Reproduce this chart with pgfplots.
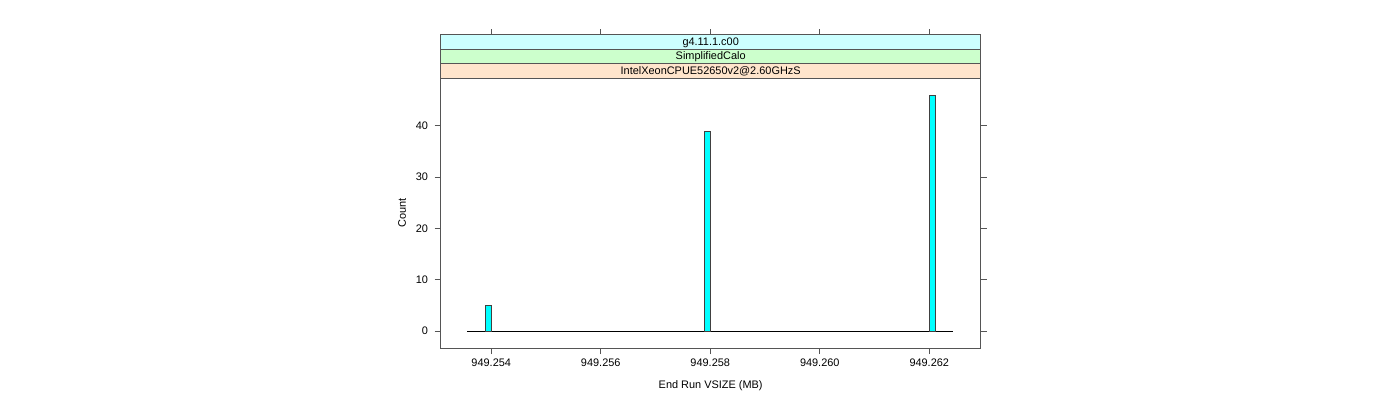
\documentclass[border=0pt]{standalone}
\usepackage{pgfplots}
\pgfplotsset{compat=1.18}
\usetikzlibrary{calc}
\usepackage{fontspec}
\setmainfont{Liberation Sans}
\definecolor{barcyan}{HTML}{00FFFF}
\definecolor{stripA}{HTML}{CCFFFF}
\definecolor{stripB}{HTML}{CCFFCC}
\definecolor{stripC}{HTML}{FFE5CC}
\definecolor{frame}{HTML}{555555}
\begin{document}
\begin{tikzpicture}[x=1pt,y=1pt]
\path[use as bounding box] (-330.5,-39) rectangle (719.5,261);
\begin{axis}[at={(0,0)}, anchor=south west, scale only axis,
 width=405pt, height=202.3pt,
 xmin=3.076, xmax=12.939, ymin=-3.31, ymax=49.29,
 xtick={4,6,8,10,12},
 xticklabels={949.254,949.256,949.258,949.260,949.262},
 ytick={0,10,20,30,40},
 tick align=outside, major tick length=4.5pt,
 xtick pos=bottom, ytick pos=both,
 axis line style={frame, line width=0.75pt},
 tick style={frame, line width=0.75pt},
 font=\fontsize{8.2}{9.8}\selectfont,
 /pgf/number format/assume math mode=true,
 yticklabel style={xshift=-1.5pt},
 xlabel={End Run VSIZE (MB)}, ylabel={Count},
 xlabel style={at={(axis description cs:0.5,0)}, anchor=center, yshift=-28pt},
 ylabel style={at={(axis description cs:0,0.5)}, anchor=center, rotate=0, yshift=29pt},
 clip=false,
]
\addplot[black, line width=0.75pt] coordinates {(3.562,0)(12.438,0)};
\addplot[ybar interval, fill=barcyan, draw=black!75, line width=0.6pt] coordinates {(3.8904,5)(4.0073,5)};
\addplot[ybar interval, fill=barcyan, draw=black!75, line width=0.6pt] coordinates {(7.8900,39)(8.0000,39)};
\addplot[ybar interval, fill=barcyan, draw=black!75, line width=0.6pt] coordinates {(12.0000,46)(12.1170,46)};
\coordinate (tl) at (rel axis cs:0,1);
\coordinate (tr) at (rel axis cs:1,1);
\draw[frame, line width=0.75pt] ([yshift=32.5pt]axis cs:4,49.29) -- ([yshift=37pt]axis cs:4,49.29);
\draw[frame, line width=0.75pt] ([yshift=32.5pt]axis cs:6,49.29) -- ([yshift=37pt]axis cs:6,49.29);
\draw[frame, line width=0.75pt] ([yshift=32.5pt]axis cs:8,49.29) -- ([yshift=37pt]axis cs:8,49.29);
\draw[frame, line width=0.75pt] ([yshift=32.5pt]axis cs:10,49.29) -- ([yshift=37pt]axis cs:10,49.29);
\draw[frame, line width=0.75pt] ([yshift=32.5pt]axis cs:12,49.29) -- ([yshift=37pt]axis cs:12,49.29);
\end{axis}
\begin{scope}[font=\fontsize{8.2}{9.8}\selectfont]
\draw[frame, line width=0.75pt, fill=stripC] (tl) rectangle ([yshift=11.2pt]tr);
\node at ($ (tl)!0.5!(tr) + (0,5.3pt) $) {IntelXeonCPUE52650v2@2.60GHzS};
\draw[frame, line width=0.75pt, fill=stripB] ([yshift=11.2pt]tl) rectangle ([yshift=21.9pt]tr);
\node at ($ (tl)!0.5!(tr) + (0,16.3pt) $) {SimplifiedCalo};
\draw[frame, line width=0.75pt, fill=stripA] ([yshift=21.9pt]tl) rectangle ([yshift=32.5pt]tr);
\node at ($ (tl)!0.5!(tr) + (0,26.9pt) $) {g4.11.1.c00};
\end{scope}
\end{tikzpicture}
\end{document}
